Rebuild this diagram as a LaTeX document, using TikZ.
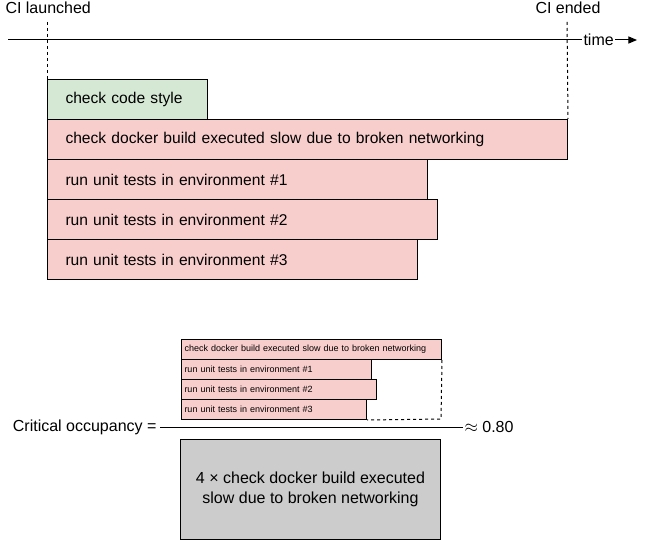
\documentclass[tikz,border=0pt]{standalone}
\usepackage{fontspec}
\setmainfont{Liberation Sans}
\usepackage{tikz}
\usetikzlibrary{arrows}

\definecolor{okgreen}{HTML}{D5E8D4}
\definecolor{slowred}{HTML}{F8CECC}
\definecolor{totalgray}{HTML}{CCCCCC}

\begin{document}
\begin{tikzpicture}[x=1pt,y=-1pt,line width=1pt]
    \tikzstyle{mark line} = [dash pattern=on 3pt off 3pt,draw=black]
    \tikzstyle{job}=[
      rectangle,
      draw=black,
      fill=slowred,
      anchor=north west,
      minimum height=40pt,
      inner xsep=18pt,
      align=left,
      font=\fontsize{15.6}{18}\selectfont,
    ]
    \tikzstyle{minijob}=[
      job,
      minimum height=20pt,
      inner xsep=3pt,
      inner ysep=0pt,
      font=\fontsize{9}{10}\selectfont,
    ]
    \tikzstyle{label}=[font=\fontsize{16}{18}\selectfont,inner sep=1pt]

    \useasboundingbox (0,0) rectangle (646,540);

    % time axis
    {
      \coordinate (axstart) at (8,40);
      \coordinate (axend) at (637,40);
      \node[label,fill=white,anchor=west] (time) at (582,40) {time};
      \draw (axstart) -- (time.west);
      \draw[->,>=triangle 45] (time.east) -- (axend);

      \node[label,anchor=west] (launched) at (4,8) {CI launched};
      \node[label,anchor=west] (ended) at (534,8) {CI ended};
      \coordinate (launchtop) at (47,22);
      \coordinate (endtop) at (567,22);
    }

    % jobs of one CI run
    {
      \node[job,fill=okgreen,text width=124pt] (style) at (47,79) {check code style};
      \node[job,text width=484pt] (docker) at (47,119) {check docker build executed slow due to broken networking};
      \node[job,text width=344pt] (env1) at (47,159) {run unit tests in environment \#1};
      \node[job,text width=354pt] (env2) at (47,199) {run unit tests in environment \#2};
      \node[job,text width=334pt] (env3) at (47,239) {run unit tests in environment \#3};
    }

    {
      \draw[mark line] (launchtop) -- (style.north west);
      \draw[mark line] (endtop) -- (docker.north east);
    }

    % critical occupancy
    {
      \node[minijob,text width=254pt] (mdocker) at (181,339) {check docker build executed slow due to broken networking};
      \node[minijob,text width=184pt] (menv1) at (181,359) {run unit tests in environment \#1};
      \node[minijob,text width=189pt] (menv2) at (181,379) {run unit tests in environment \#2};
      \node[minijob,text width=179pt] (menv3) at (181,399) {run unit tests in environment \#3};
      \coordinate (idlecorner) at (441,419);
      \draw[mark line] (mdocker.south east) -- (idlecorner) -- (menv3.south east);

      \node[label,anchor=east] (crit) at (158,427) {Critical occupancy =};
      \node[label,anchor=west] (ratio) at (463,427) {$\approx$ 0.80};
      \draw (crit.east) ++(2,0) -- (ratio.west);

      \node[rectangle,draw=black,fill=totalgray,anchor=north west,
        minimum width=260pt,minimum height=100pt,align=center,
        font=\fontsize{16}{20}\selectfont] (total) at (180,439)
        {4 × check docker build executed\\slow due to broken networking};
    }
\end{tikzpicture}
\end{document}
